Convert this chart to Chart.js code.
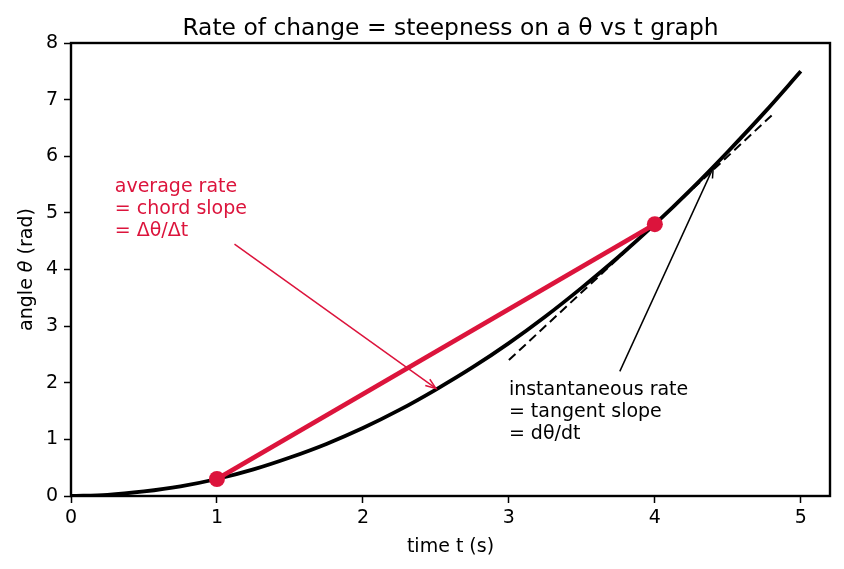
<!DOCTYPE html>
<html>
<head>
<meta charset="utf-8">
<script src="https://cdn.jsdelivr.net/npm/chart.js@4"></script>
<style>
  html, body { margin: 0; padding: 0; background: #fff; }
  #wrap { width: 844px; height: 569px; }
</style>
</head>
<body>
<div id="wrap"><canvas id="myChart"></canvas></div>
<script>
// values
const timeValues = [0, 0.25, 0.5, 0.75, 1, 1.25, 1.5, 1.75, 2, 2.25, 2.5, 2.75, 3, 3.25, 3.5, 3.75, 4, 4.25, 4.5, 4.75, 5];
const angleValues = [0, 0.02, 0.08, 0.17, 0.3, 0.47, 0.68, 0.92, 1.2, 1.52, 1.88, 2.27, 2.7, 3.17, 3.68, 4.22, 4.8, 5.42, 6.08, 6.77, 7.5];
const chordTimes = [1, 4];
const chordAngles = [0.3, 4.8];
const tangentTimes = [3, 4.8];
const tangentAngles = [2.4, 6.72];
const xTicks = [0, 1, 2, 3, 4, 5];
const yTicks = [0, 1, 2, 3, 4, 5, 6, 7, 8];

const red = '#DC143C';
const font = 'DejaVu Sans';
const labelSize = 19;
const titleText = 'Rate of change = steepness on a \u03b8 vs t graph';

function pts(xs, ys) {
  return xs.map((x, i) => ({ x: x, y: ys[i] }));
}

// title, y label with italic theta, frame box, arrows and notes
const extras = {
  id: 'extras',
  afterDatasetsDraw(chart) {
    const ctx = chart.ctx;
    const x = chart.scales.x, y = chart.scales.y;
    const a = chart.chartArea;
    ctx.save();

    function arrow(x0, y0, x1, y1, color) {
      const px0 = x.getPixelForValue(x0), py0 = y.getPixelForValue(y0);
      const px1 = x.getPixelForValue(x1), py1 = y.getPixelForValue(y1);
      ctx.strokeStyle = color;
      ctx.lineWidth = 1.5;
      ctx.beginPath();
      ctx.moveTo(px0, py0);
      ctx.lineTo(px1, py1);
      ctx.stroke();
      const ang = Math.atan2(py1 - py0, px1 - px0);
      const len = 11, spread = 0.36;
      ctx.beginPath();
      ctx.moveTo(px1 - len * Math.cos(ang - spread), py1 - len * Math.sin(ang - spread));
      ctx.lineTo(px1, py1);
      ctx.lineTo(px1 - len * Math.cos(ang + spread), py1 - len * Math.sin(ang + spread));
      ctx.stroke();
    }

    function note(lines, tx, ty, color) {
      ctx.fillStyle = color;
      ctx.font = labelSize + 'px "' + font + '"';
      ctx.textAlign = 'left';
      ctx.textBaseline = 'alphabetic';
      const px = x.getPixelForValue(tx), py = y.getPixelForValue(ty);
      const lh = 22;
      lines.forEach((l, i) => {
        ctx.fillText(l, px, py - (lines.length - 1 - i) * lh);
      });
    }

    arrow(1.12, 4.45, 2.5, 1.9, red);
    arrow(3.76, 2.2, 4.4, 5.8, '#000');
    note(['average rate', '= chord slope', '= \u0394\u03b8/\u0394t'], 0.3, 4.59, red);
    note(['instantaneous rate', '= tangent slope', '= d\u03b8/dt'], 3.0, 1.0, '#000');

    ctx.strokeStyle = '#000';
    ctx.lineWidth = 2.4;
    ctx.strokeRect(a.left, a.top, a.right - a.left, a.bottom - a.top);

    // title centred over the plot area
    ctx.fillStyle = '#000';
    ctx.font = '23.4px "' + font + '"';
    ctx.textAlign = 'center';
    ctx.textBaseline = 'alphabetic';
    ctx.fillText(titleText, (a.left + a.right) / 2, 35);

    // y label: "angle " + italic theta + " (rad)"
    const parts = [
      ['angle ', 'normal'],
      ['\u03b8', 'italic'],
      [' (rad)', 'normal']
    ];
    let total = 0;
    parts.forEach(p => {
      ctx.font = p[1] + ' ' + labelSize + 'px "' + font + '"';
      p.push(ctx.measureText(p[0]).width);
      total += p[2];
    });
    ctx.translate(32, (a.top + a.bottom) / 2);
    ctx.rotate(-Math.PI / 2);
    ctx.textAlign = 'left';
    let cx = -total / 2;
    parts.forEach(p => {
      ctx.font = p[1] + ' ' + labelSize + 'px "' + font + '"';
      ctx.fillText(p[0], cx, 0);
      cx += p[2];
    });
    ctx.restore();
  }
};

const ctx = document.getElementById('myChart').getContext('2d');
const myChart = new Chart(ctx, {
  type: 'scatter',
  data: {
    datasets: [
      {
        label: 'theta',
        data: pts(timeValues, angleValues),
        showLine: true,
        borderColor: '#000',
        borderWidth: 3.8,
        pointRadius: 0,
        cubicInterpolationMode: 'monotone',
        order: 3
      },
      {
        label: 'tangent',
        data: pts(tangentTimes, tangentAngles),
        showLine: true,
        borderColor: '#000',
        borderWidth: 2,
        borderDash: [9, 5],
        pointRadius: 0,
        order: 2
      },
      {
        label: 'chord',
        data: pts(chordTimes, chordAngles),
        showLine: true,
        borderColor: red,
        backgroundColor: red,
        borderWidth: 4.8,
        pointRadius: 8,
        pointBorderWidth: 0,
        order: 1
      }
    ]
  },
  options: {
    responsive: true,
    maintainAspectRatio: false,
    animation: false,
    layout: { padding: { left: 0, right: 14, top: 43, bottom: 0 } },
    plugins: {
      legend: { display: false },
      tooltip: { enabled: false },
      title: { display: false }
    },
    scales: {
      x: {
        type: 'linear',
        min: 0,
        max: 5.2,
        afterBuildTicks: s => { s.ticks = xTicks.map(v => ({ value: v })); },
        afterFit: s => { s.height = 73; },
        ticks: { color: '#000', font: { family: font, size: labelSize }, padding: 4, maxRotation: 0 },
        grid: { display: true, drawOnChartArea: false, drawTicks: true, tickLength: 7, tickWidth: 1.5, color: '#000' },
        border: { display: false },
        title: {
          display: true,
          text: 'time t (s)',
          color: '#000',
          font: { family: font, size: labelSize, lineHeight: 1.2 },
          padding: { top: 0, bottom: 11 }
        }
      },
      y: {
        type: 'linear',
        min: 0,
        max: 8,
        afterBuildTicks: s => { s.ticks = yTicks.map(v => ({ value: v })); },
        afterFit: s => { s.width = 71; },
        ticks: { color: '#000', font: { family: font, size: labelSize }, padding: 6 },
        grid: { display: true, drawOnChartArea: false, drawTicks: true, tickLength: 7, tickWidth: 1.5, color: '#000' },
        border: { display: false },
        title: { display: false }
      }
    }
  },
  plugins: [extras]
});
</script>
</body>
</html>
